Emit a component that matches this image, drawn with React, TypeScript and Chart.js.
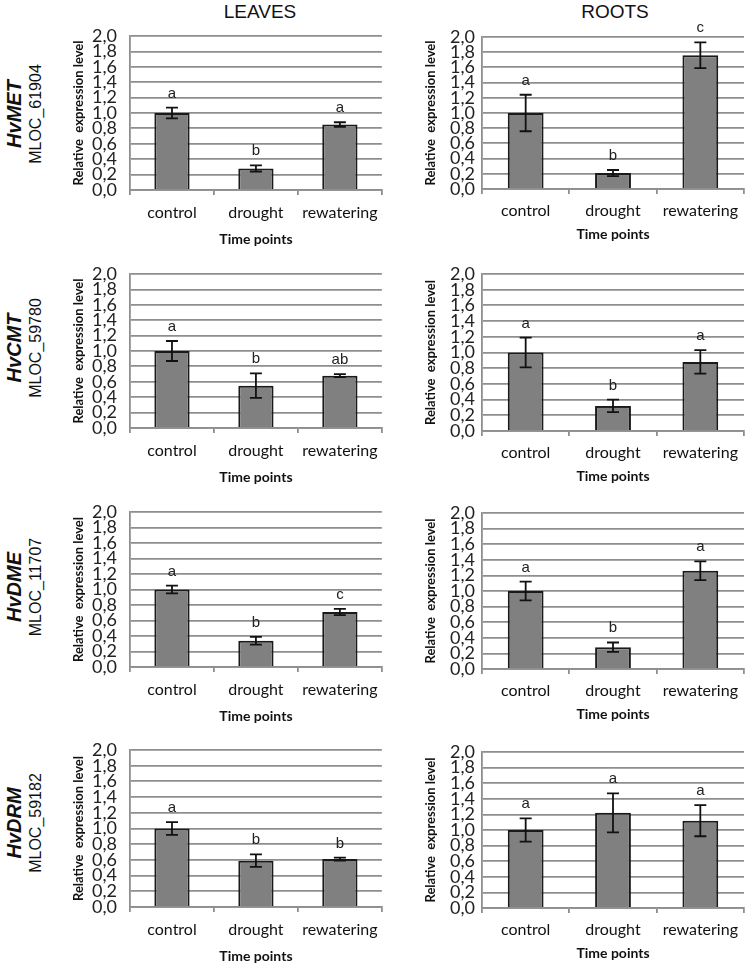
import React, { useEffect, useRef } from "react";
import { Chart, registerables } from "chart.js";

Chart.register(...registerables);

// ---------- DATA ----------
const categories = ["control", "drought", "rewatering"];
const yTickLabels = ["0,0", "0,2", "0,4", "0,6", "0,8", "1,0", "1,2", "1,4", "1,6", "1,8", "2,0"];

const genes = ["HvMET", "HvCMT", "HvDME", "HvDRM"];
const geneIds = ["MLOC_61904", "MLOC_59780", "MLOC_11707", "MLOC_59182"];

// Leaves
const metLeavesMean = [1.0, 0.28, 0.85];
const metLeavesErr = [0.07, 0.04, 0.03];
const metLeavesLetters = ["a", "b", "a"];
const cmtLeavesMean = [1.0, 0.55, 0.68];
const cmtLeavesErr = [0.13, 0.16, 0.02];
const cmtLeavesLetters = ["a", "b", "ab"];
const dmeLeavesMean = [1.0, 0.34, 0.71];
const dmeLeavesErr = [0.05, 0.05, 0.04];
const dmeLeavesLetters = ["a", "b", "c"];
const drmLeavesMean = [1.0, 0.59, 0.61];
const drmLeavesErr = [0.08, 0.08, 0.02];
const drmLeavesLetters = ["a", "b", "b"];

// Roots
const metRootsMean = [1.0, 0.21, 1.76];
const metRootsErr = [0.24, 0.04, 0.17];
const metRootsLetters = ["a", "b", "c"];
const cmtRootsMean = [1.0, 0.32, 0.88];
const cmtRootsErr = [0.19, 0.08, 0.15];
const cmtRootsLetters = ["a", "b", "a"];
const dmeRootsMean = [1.0, 0.28, 1.26];
const dmeRootsErr = [0.12, 0.06, 0.12];
const dmeRootsLetters = ["a", "b", "a"];
const drmRootsMean = [1.0, 1.22, 1.12];
const drmRootsErr = [0.15, 0.25, 0.2];
const drmRootsLetters = ["a", "a", "a"];

const leavesData = [
  [metLeavesMean, metLeavesErr, metLeavesLetters],
  [cmtLeavesMean, cmtLeavesErr, cmtLeavesLetters],
  [dmeLeavesMean, dmeLeavesErr, dmeLeavesLetters],
  [drmLeavesMean, drmLeavesErr, drmLeavesLetters],
];
const rootsData = [
  [metRootsMean, metRootsErr, metRootsLetters],
  [cmtRootsMean, cmtRootsErr, cmtRootsLetters],
  [dmeRootsMean, dmeRootsErr, dmeRootsLetters],
  [drmRootsMean, drmRootsErr, drmRootsLetters],
];

// ---------- LAYOUT ----------
const LAYOUT = {
  leaves: {
    canvasLeft: 70,
    yAxisWidth: 60,
    chartRight: 383,
    tickPad: 13,
    tops: [36, 274, 512, 750],
    bottoms: [190, 428, 667, 907],
    labelGap: 23,
    titleGap: 50,
    barPct: 0.42,
  },
  roots: {
    canvasLeft: 422,
    yAxisWidth: 60,
    chartRight: 744,
    tickPad: 7,
    tops: [37, 274, 513, 752],
    bottoms: [189, 431, 669, 908],
    labelGap: 22,
    titleGap: 46,
    barPct: 0.41,
  },
};

const PAD_TOP = 26;
const CAT_FONT = "Lato, 'Noto Sans', sans-serif";
const GRID = "#8e8e8e";

function makePlugin(err: number[], letters: string[]) {
  return {
    id: "errLetters",
    afterDatasetsDraw(chart: any) {
      const ctx = chart.ctx;
      const meta = chart.getDatasetMeta(0);
      const ys = chart.scales.y;
      const data = chart.data.datasets[0].data as number[];
      ctx.save();
      meta.data.forEach((el: any, i: number) => {
        const x = el.x;
        const top = ys.getPixelForValue(data[i] + err[i]);
        const bot = ys.getPixelForValue(data[i] - err[i]);
        ctx.strokeStyle = "#111";
        ctx.lineWidth = 1.8;
        ctx.beginPath();
        ctx.moveTo(x, top);
        ctx.lineTo(x, bot);
        ctx.moveTo(x - 6, top);
        ctx.lineTo(x + 6, top);
        ctx.moveTo(x - 6, bot);
        ctx.lineTo(x + 6, bot);
        ctx.stroke();
        ctx.fillStyle = "#222";
        ctx.font = "15px 'Liberation Sans', Arial, sans-serif";
        ctx.textAlign = "center";
        ctx.textBaseline = "alphabetic";
        ctx.fillText(letters[i], x, top - 10);
      });
      ctx.restore();
    },
  };
}

type PanelProps = { side: "leaves" | "roots"; row: number };

function Panel({ side, row }: PanelProps) {
  const ref = useRef<HTMLCanvasElement>(null);
  const L = LAYOUT[side];
  const [mean, err, letters] = (side === "leaves" ? leavesData : rootsData)[row] as [number[], number[], string[]];
  const chartTop = L.tops[row];
  const chartBottom = L.bottoms[row];
  const xAxisH = L.titleGap + 10;
  const width = L.chartRight - L.canvasLeft + 3;
  const height = PAD_TOP + (chartBottom - chartTop) + xAxisH;

  useEffect(() => {
    if (!ref.current) return;
    const chart = new Chart(ref.current, {
      type: "bar",
      data: {
        labels: categories,
        datasets: [
          {
            data: mean,
            backgroundColor: "#808080",
            borderColor: "#1a1a1a",
            borderWidth: 2,
            barPercentage: L.barPct,
            categoryPercentage: 1,
          },
        ],
      },
      options: {
        responsive: false,
        animation: false,
        devicePixelRatio: 1,
        layout: { padding: { top: PAD_TOP, right: 3, left: 0, bottom: 0 } },
        plugins: { legend: { display: false }, tooltip: { enabled: false }, title: { display: false } },
        scales: {
          x: {
            offset: true,
            grid: {
              offset: true,
              drawOnChartArea: false,
              drawTicks: true,
              tickLength: 5,
              color: GRID,
              lineWidth: 1.8,
            },
            border: { display: true, color: GRID, width: 1.8 },
            ticks: {
              padding: L.labelGap - 5 - 10,
              color: "#111",
              font: { family: CAT_FONT, size: 16 },
              maxRotation: 0,
              autoSkip: false,
            },
            title: {
              display: true,
              text: "Time points",
              color: "#111",
              font: { family: CAT_FONT, size: 14, weight: "bold" },
              padding: { top: 0, bottom: 2 },
            },
            afterFit: (s: any) => {
              s.height = xAxisH;
            },
          },
          y: {
            min: 0,
            max: 2,
            grid: { color: GRID, lineWidth: 1.8, drawTicks: false },
            border: { display: true, color: GRID, width: 1.8 },
            ticks: {
              stepSize: 0.2,
              autoSkip: false,
              padding: L.tickPad,
              color: "#222",
              font: { family: CAT_FONT, size: 18, lineHeight: 0.85 },
              callback: (_v: any, i: number) => yTickLabels[i],
            },
            title: {
              display: true,
              text: "Relative  expression level",
              color: "#111",
              font: { family: CAT_FONT, size: 13, weight: "bold" },
              padding: { top: 1, bottom: 0 },
            },
            afterFit: (s: any) => {
              s.width = L.yAxisWidth;
            },
          },
        },
      },
      plugins: [makePlugin(err, letters)],
    } as any);
    return () => chart.destroy();
  }, []);

  return (
    <canvas
      ref={ref}
      width={width}
      height={height}
      style={{
        position: "absolute",
        left: L.canvasLeft,
        top: chartTop - PAD_TOP,
        width,
        height,
      }}
    />
  );
}

const rowLabelCenters = [114, 348, 587, 823];

export default function App() {
  return (
    <div
      style={{
        position: "absolute",
        left: 0,
        top: 0,
        width: 750,
        height: 964,
        background: "#fff",
        overflow: "hidden",
      }}
    >
      <div
        style={{
          position: "absolute",
          left: 160,
          width: 200,
          top: 1,
          textAlign: "center",
          font: "19px 'Liberation Sans', Arial, sans-serif",
          color: "#111",
        }}
      >
        LEAVES
      </div>
      <div
        style={{
          position: "absolute",
          left: 515,
          width: 200,
          top: 1,
          textAlign: "center",
          font: "19px 'Liberation Sans', Arial, sans-serif",
          color: "#111",
        }}
      >
        ROOTS
      </div>
      {genes.map((g, i) => (
        <React.Fragment key={g}>
          <div
            style={{
              position: "absolute",
              left: 15 - 100,
              top: rowLabelCenters[i] - 12,
              width: 200,
              height: 24,
              lineHeight: "24px",
              textAlign: "center",
              transform: "rotate(-90deg)",
              font: "italic bold 20px 'Liberation Sans', Arial, sans-serif",
              color: "#111",
            }}
          >
            {g}
          </div>
          <div
            style={{
              position: "absolute",
              left: 37 - 100,
              top: rowLabelCenters[i] - 10,
              width: 200,
              height: 20,
              lineHeight: "20px",
              textAlign: "center",
              transform: "rotate(-90deg)",
              font: "16px 'Liberation Sans', Arial, sans-serif",
              color: "#111",
            }}
          >
            {geneIds[i]}
          </div>
        </React.Fragment>
      ))}
      {[0, 1, 2, 3].map((r) => (
        <React.Fragment key={r}>
          <Panel side="leaves" row={r} />
          <Panel side="roots" row={r} />
        </React.Fragment>
      ))}
    </div>
  );
}
